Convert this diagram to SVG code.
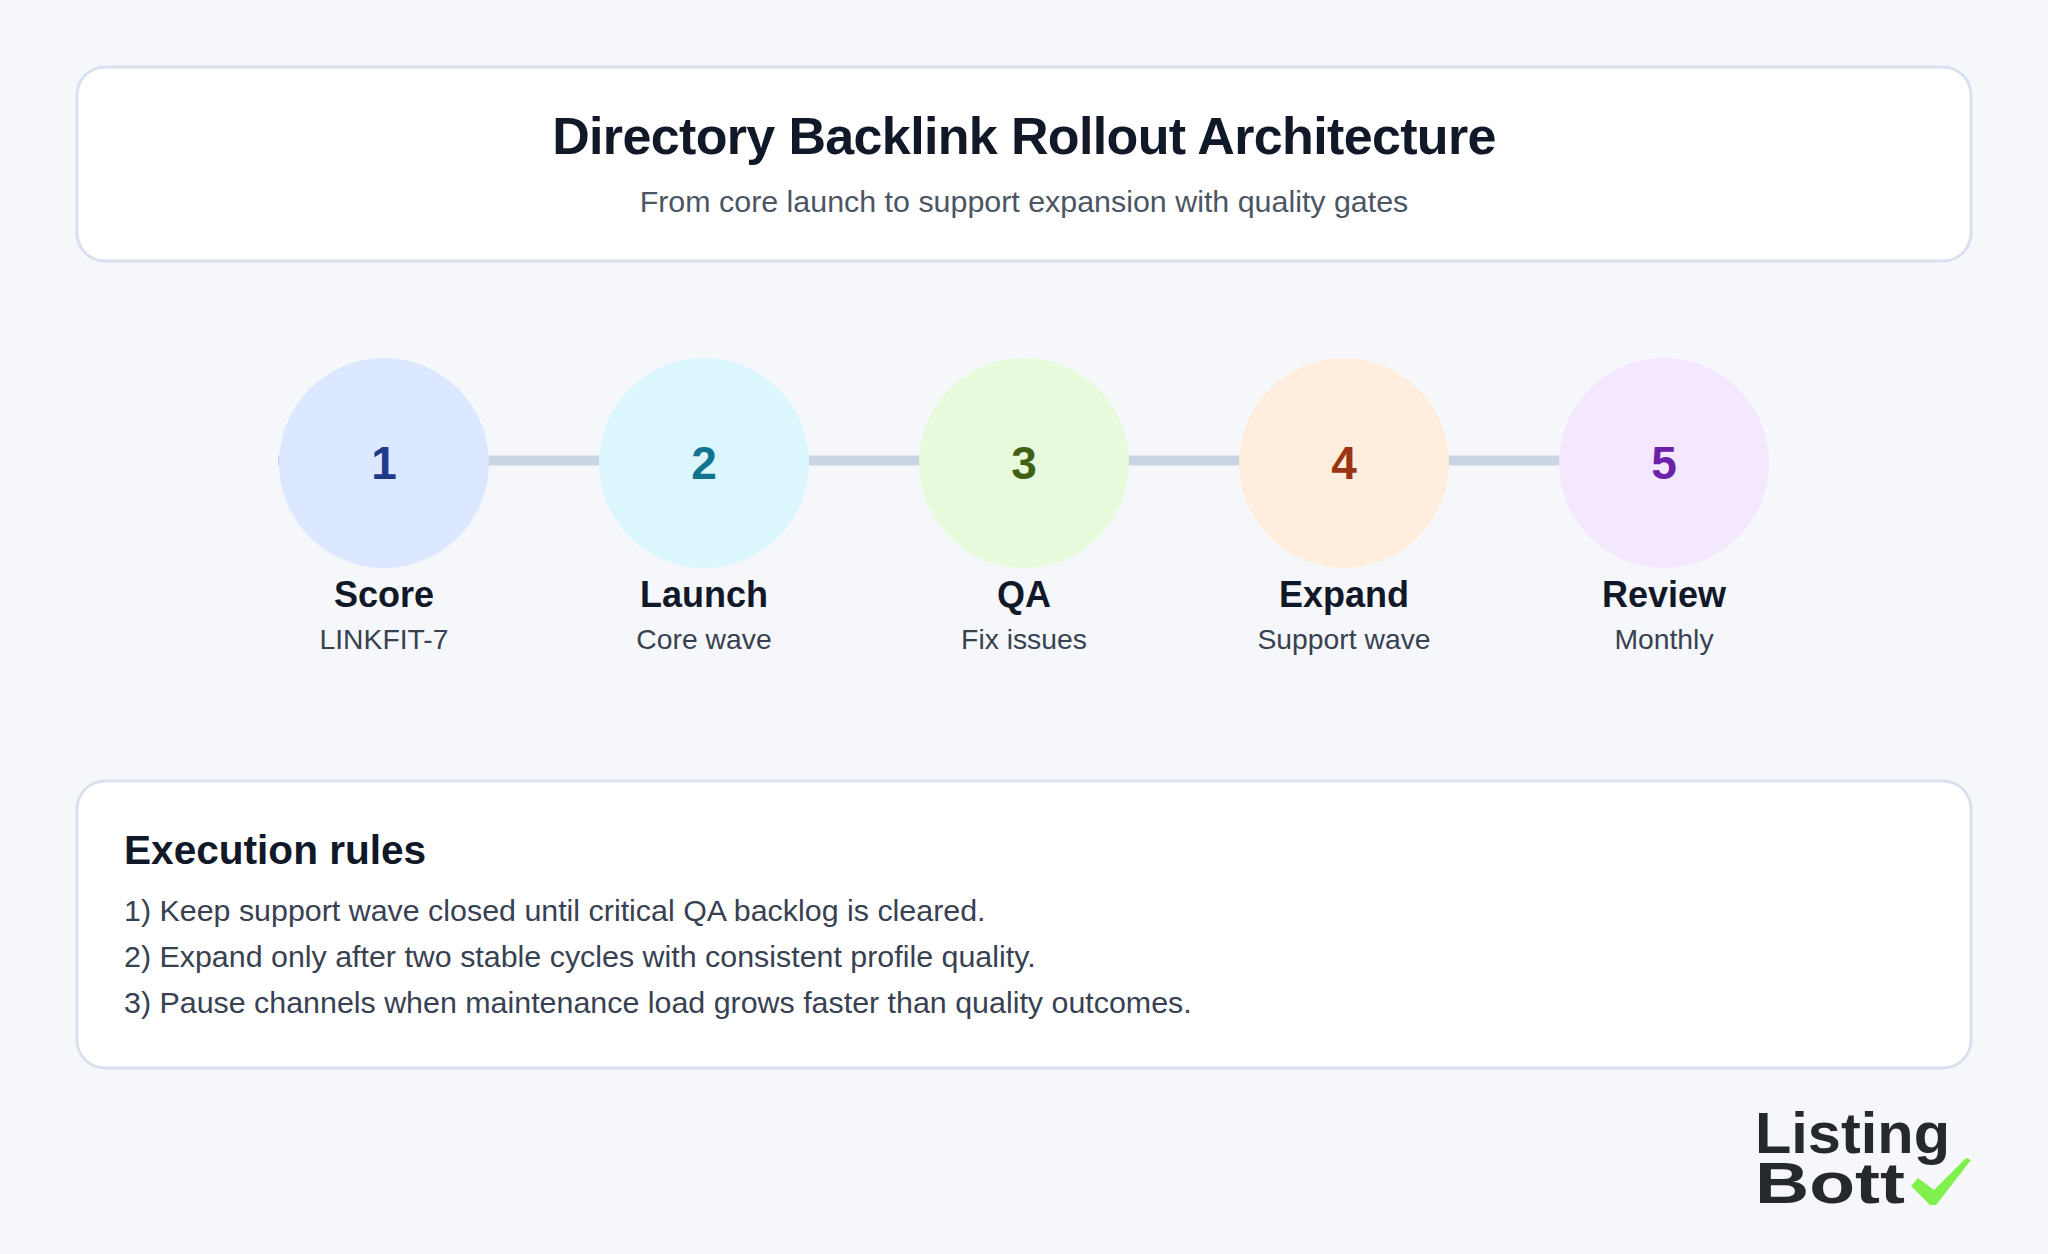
<svg xmlns="http://www.w3.org/2000/svg" width="2048" height="1254" viewBox="0 0 2048 1254">
<style>
text{font-family:"Liberation Sans",Arial,sans-serif}
.card{fill:#fff;stroke:#d9e0ee;stroke-width:3}
.num{font-size:46px;font-weight:700;text-anchor:middle}
.lab{font-size:36px;font-weight:700;text-anchor:middle;fill:#111827}
.sub{font-size:28.300px;text-anchor:middle;fill:#374151}
.rule{font-size:30.400px;fill:#374151}
.conn{stroke:#cbd5e1;stroke-width:10;fill:none}
.logo{font-size:58px;font-weight:700;fill:#25282c}
</style>
<rect width="2048" height="1254" fill="#f5f7fb"/>
<g id="header"><rect class="card" x="77" y="67" width="1894" height="194" rx="28"/>
<text x="1024" y="153.500" font-size="52" font-weight="700" text-anchor="middle" fill="#111827" letter-spacing="-0.65">Directory Backlink Rollout Architecture</text>
<text x="1024" y="212" font-size="30.400" text-anchor="middle" fill="#4b5563">From core launch to support expansion with quality gates</text></g>
<g id="connectors"><path class="conn" d="M278 460.500H1768"/></g>
<g id="n1"><circle cx="384" cy="463" r="105" fill="#dbe8ff"/><text class="num" x="384" y="479" fill="#1e3a8a">1</text><text class="lab" x="384" y="607">Score</text><text class="sub" x="384" y="649">LINKFIT-7</text></g>
<g id="n2"><circle cx="704" cy="463" r="105" fill="#dcf6fe"/><text class="num" x="704" y="479" fill="#0e7490">2</text><text class="lab" x="704" y="607">Launch</text><text class="sub" x="704" y="649">Core wave</text></g>
<g id="n3"><circle cx="1024" cy="463" r="105" fill="#e7fbdc"/><text class="num" x="1024" y="479" fill="#3f6212">3</text><text class="lab" x="1024" y="607">QA</text><text class="sub" x="1024" y="649">Fix issues</text></g>
<g id="n4"><circle cx="1344" cy="463" r="105" fill="#ffeedd"/><text class="num" x="1344" y="479" fill="#9a3412">4</text><text class="lab" x="1344" y="607">Expand</text><text class="sub" x="1344" y="649">Support wave</text></g>
<g id="n5"><circle cx="1664" cy="463" r="105" fill="#f3e8ff"/><text class="num" x="1664" y="479" fill="#6b21a8">5</text><text class="lab" x="1664" y="607">Review</text><text class="sub" x="1664" y="649">Monthly</text></g>
<g id="rules"><rect class="card" x="77" y="781" width="1894" height="287" rx="28"/>
<text x="124" y="864" font-size="40.600" font-weight="700" fill="#111827">Execution rules</text>
<text class="rule" x="124" y="921">1) Keep support wave closed until critical QA backlog is cleared.</text>
<text class="rule" x="124" y="967">2) Expand only after two stable cycles with consistent profile quality.</text>
<text class="rule" x="124" y="1013">3) Pause channels when maintenance load grows faster than quality outcomes.</text></g>
<g id="logo"><text class="logo" x="1755" y="1153" textLength="195" lengthAdjust="spacingAndGlyphs">Listing</text><text class="logo" x="1755" y="1203" textLength="150" lengthAdjust="spacingAndGlyphs">Bott</text>
<path d="M1911 1186L1918 1178L1934 1190L1966 1158L1971 1160L1936 1205H1930Z" fill="#7ff04c"/></g>
</svg>
